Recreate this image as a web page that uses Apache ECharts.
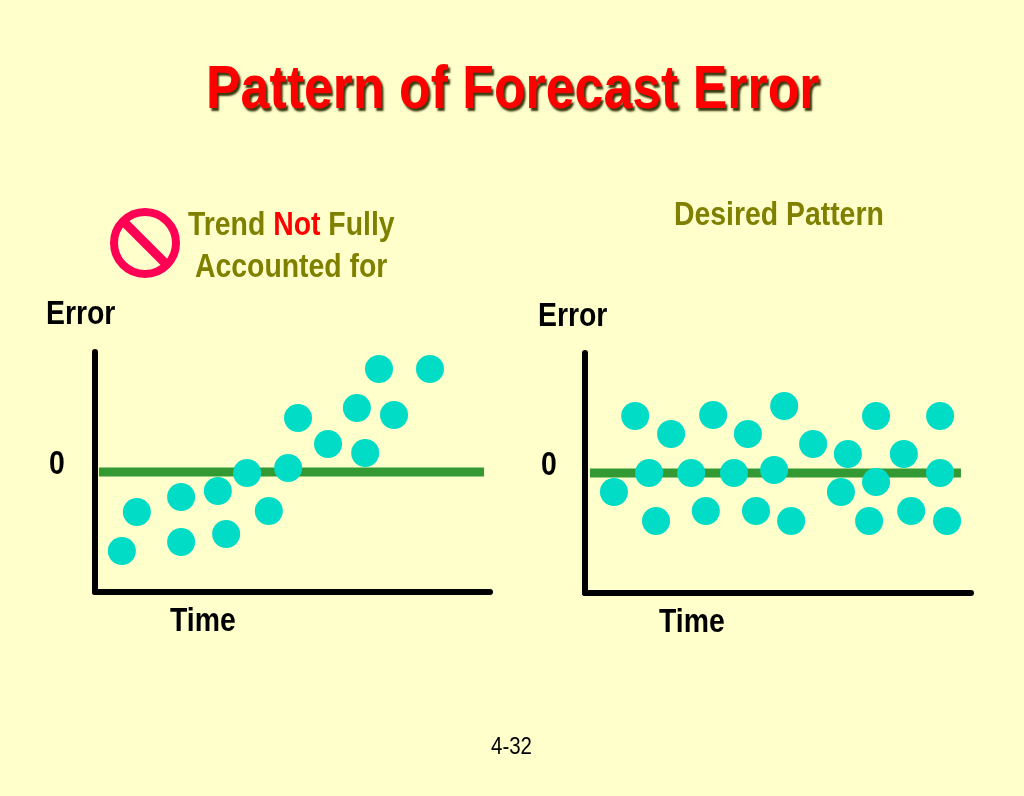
<!DOCTYPE html>
<html>
<head>
<meta charset="utf-8">
<style>
html,body{margin:0;padding:0;background:#ffffcc}
#chart{width:1024px;height:796px}
</style>
<script src="https://cdn.jsdelivr.net/npm/echarts@6/dist/echarts.min.js"></script>
</head>
<body>
<div id="chart"></div>
<script>
// [time, error], time 0-100, error -60..60
var trendPoints = [[6.8,-39.5],[10.6,-20],[21.8,-35],[21.8,-12.5],[33.2,-31],[31.1,-9.5],[38.5,-0.5],[44,-19.5],[48.9,2],[51.4,27],[59,14],[66.3,32],[68.4,9.5],[75.7,28.5],[71.9,51.5],[84.8,51.5]]
var desiredPoints = [[7.5,-9.5],[13,28.5],[16.6,0],[18.4,-24],[22.3,19.5],[27.5,0],[31.3,-19],[33.2,29],[38.6,0],[42.2,19.5],[44.3,-19],[49,1.5],[51.6,33.5],[53.4,-24],[59.1,14.5],[66.3,-9.5],[68.1,9.5],[73.6,-24],[75.4,28.5],[75.4,-4.5],[82.6,9.5],[84.5,-19],[92,28.5],[92,0],[93.8,-24]]
var trendZero = [[1,0],[98.5,0]]
var desiredZero = [[1.3,0],[97.4,0]]

var axisStyle = {show:true, onZero:false, lineStyle:{color:'#000', width:6, cap:'round'}}

function xAxis(i){
    return {gridIndex:i, type:'value', min:0, max:100, axisLine:axisStyle, axisTick:{show:false}, axisLabel:{show:false}, splitLine:{show:false}}
}
function yAxis(i){
    return {gridIndex:i, type:'value', min:-60, max:60, interval:60, axisLine:axisStyle, axisTick:{show:false}, axisLabel:{show:false}, splitLine:{show:false}}
}
// the slide font is a narrow Arial, so squeeze Liberation Sans sideways
function label(text,x,y,color,extra){
    var style = {text:text, fill:color||'#000', font:'bold 33px "Liberation Sans"', textBaseline:'top'}
    for (var k in extra) style[k] = extra[k]
    return {type:'text', x:x, y:y, scaleX:0.86, z:10, style:style}
}

var chart = echarts.init(document.getElementById('chart'))
chart.setOption({
    backgroundColor:'#ffffcc',
    animation:false,
    grid:[
        {left:95, top:352, width:395, height:240},
        {left:585, top:353, width:386, height:240}
    ],
    xAxis:[xAxis(0),xAxis(1)],
    yAxis:[yAxis(0),yAxis(1)],
    series:[
        {type:'line', xAxisIndex:0, yAxisIndex:0, data:trendZero, showSymbol:false, silent:true, z:2, lineStyle:{color:'#339933', width:9}},
        {type:'line', xAxisIndex:1, yAxisIndex:1, data:desiredZero, showSymbol:false, silent:true, z:2, lineStyle:{color:'#339933', width:9}},
        {type:'scatter', xAxisIndex:0, yAxisIndex:0, data:trendPoints, symbolSize:28, z:3, itemStyle:{color:'#00dcc6', opacity:1}},
        {type:'scatter', xAxisIndex:1, yAxisIndex:1, data:desiredPoints, symbolSize:28, z:3, itemStyle:{color:'#00dcc6', opacity:1}}
    ],
    graphic:[
        {type:'text', x:206, y:60, scaleX:0.836, z:10, style:{text:'Pattern of Forecast Error', fill:'#ff0000', font:'bold 62px "Liberation Sans"', textBaseline:'top',
            textShadowColor:'#3a3a10', textShadowOffsetX:2, textShadowOffsetY:3, textShadowBlur:2}},
        label('Trend {n|Not} Fully',188,209,'#808000',{rich:{n:{fill:'#ff0000', font:'bold 33px "Liberation Sans"'}}}),
        label('Accounted for',195,251,'#808000'),
        label('Desired Pattern',674,199,'#808000'),
        label('Error',46,298),
        label('Error',538,300),
        label('Time',170,605),
        label('Time',659,606),
        label('0',49,448),
        label('0',541,449),
        {type:'text', x:491, y:735, scaleX:0.854, z:10, style:{text:'4-32', fill:'#000', font:'24px "Liberation Sans"', textBaseline:'top'}},
        // no-entry sign next to the left heading
        {type:'circle', shape:{cx:145, cy:243, r:31}, style:{fill:'transparent', stroke:'#ff0055', lineWidth:8}},
        {type:'line', shape:{x1:122, y1:220, x2:168, y2:266}, style:{stroke:'#ff0055', lineWidth:9}}
    ]
})
</script>
</body>
</html>
